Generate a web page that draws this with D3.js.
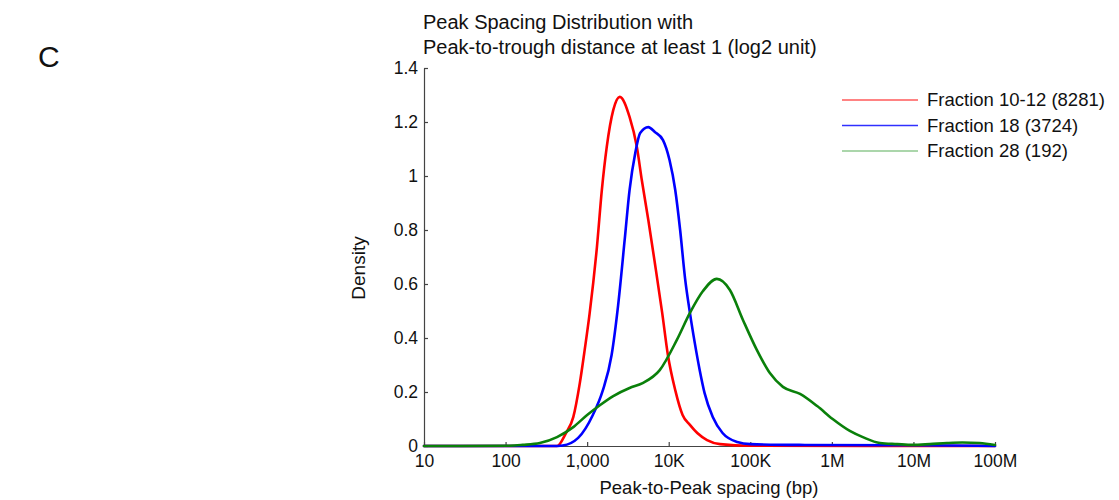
<!DOCTYPE html>
<html>
<head>
<meta charset="utf-8">
<script src="https://cdn.jsdelivr.net/npm/d3@7"></script>
<style>
  html, body { margin: 0; padding: 0; background: #fff; }
  svg { display: block; font-family: "Liberation Sans", Arial, Helvetica, sans-serif; }
</style>
</head>
<body>
<svg id="chart" width="1119" height="500"></svg>
<script>
// ---- data ----
const titleLines = ["Peak Spacing Distribution with", "Peak-to-trough distance at least 1 (log2 unit)"];
const xTickValues = [10, 100, 1000, 1e4, 1e5, 1e6, 1e7, 1e8];
const xTickLabels = ["10", "100", "1,000", "10K", "100K", "1M", "10M", "100M"];
const yTickValues = [0, 0.2, 0.4, 0.6, 0.8, 1, 1.2, 1.4];
const yTickLabels = ["0", "0.2", "0.4", "0.6", "0.8", "1", "1.2", "1.4"];
const seriesNames = ["Fraction 10-12 (8281)", "Fraction 18 (3724)", "Fraction 28 (192)"];

const redX = [10, 300, 427, 550, 676, 813, 933, 1072, 1318, 1514, 1738, 2089, 2512, 3311, 4074, 4677, 5623, 6761, 8318, 9772, 12023, 14791, 18197, 22387, 29512, 42658, 100000, 1e8];
const redY = [0, 0, 0, 0.048, 0.107, 0.233, 0.356, 0.49, 0.737, 0.948, 1.107, 1.244, 1.293, 1.219, 1.107, 0.985, 0.837, 0.678, 0.493, 0.337, 0.207, 0.115, 0.078, 0.048, 0.022, 0.007, 0.001, 0];

const blueX = [10, 380, 501, 776, 1175, 1549, 1995, 2399, 2884, 3311, 3890, 4467, 5623, 6761, 8511, 10233, 12023, 13804, 15849, 18197, 20893, 23988, 27542, 34674, 45709, 69183, 100000, 398107, 1e7, 1e8];
const blueY = [0, 0, 0.002, 0.03, 0.115, 0.204, 0.337, 0.522, 0.763, 0.948, 1.085, 1.159, 1.181, 1.163, 1.133, 1.059, 0.948, 0.8, 0.622, 0.493, 0.381, 0.281, 0.196, 0.107, 0.048, 0.015, 0.007, 0.004, 0.003, 0];

const greenX = [10, 112, 162, 263, 427, 676, 1000, 1445, 2089, 3311, 4786, 7762, 12589, 18197, 26303, 38905, 56234, 81283, 120226, 173780, 251189, 407380, 660693, 1023293, 1659587, 2398833, 3890451, 6309573, 9772372, 15848932, 25703958, 39810717, 64565423, 1e8];
const greenY = [0, 0.001, 0.004, 0.011, 0.033, 0.07, 0.115, 0.152, 0.185, 0.215, 0.233, 0.281, 0.393, 0.493, 0.574, 0.619, 0.578, 0.467, 0.356, 0.27, 0.219, 0.193, 0.148, 0.1, 0.056, 0.033, 0.011, 0.007, 0.004, 0.007, 0.011, 0.013, 0.011, 0.004];

const seriesColors = ["#ff0000", "#0000ff", "#0a800a"];
const legendColors = ["#ff5a5a", "#3030ff", "#8fc98f"];

// ---- drawing ----
const svg = d3.select("#chart");
const x = d3.scaleLog().domain([10, 1e8]).range([424, 995]);
const y = d3.scaleLinear().domain([0, 1.4]).range([446, 68]);

// panel letter
svg.append("text").attr("x", 38).attr("y", 67).attr("font-size", 30).attr("fill", "#111").text("C");

// title
svg.append("g").selectAll("text").data(titleLines).join("text")
  .attr("x", 423).attr("y", (d, i) => 29 + i * 25)
  .attr("font-size", 20).attr("fill", "#111").text(d => d);

// axes
const xAxis = d3.axisBottom(x).tickValues(xTickValues)
  .tickFormat((d, i) => xTickLabels[i]).tickSizeInner(-4).tickSizeOuter(0).tickPadding(9);
const yAxis = d3.axisLeft(y).tickValues(yTickValues)
  .tickFormat((d, i) => yTickLabels[i]).tickSizeInner(-4).tickSizeOuter(0).tickPadding(6);

const gx = svg.append("g").attr("transform", `translate(0,${y(0)})`).call(xAxis);
const gy = svg.append("g").attr("transform", `translate(${x(10)},0)`).call(yAxis);
[gx, gy].forEach(g => {
  g.select(".domain").attr("stroke", "#444").attr("stroke-width", 1.2);
  g.selectAll(".tick line").attr("stroke", "#444").attr("stroke-width", 1.2);
  g.selectAll(".tick text").attr("font-size", 17.5).attr("fill", "#111")
    .attr("font-family", "\"Liberation Sans\", Arial, Helvetica, sans-serif");
});
gy.selectAll(".tick text").attr("dy", "0.3em");

// axis labels
svg.append("text").attr("x", 709).attr("y", 494).attr("text-anchor", "middle")
  .attr("font-size", 18.5).attr("fill", "#111").text("Peak-to-Peak spacing (bp)");
svg.append("text").attr("transform", "translate(365,268) rotate(-90)").attr("text-anchor", "middle")
  .attr("font-size", 19).attr("fill", "#111").text("Density");

// curves
const line = d3.line().x(d => x(d[0])).y(d => y(d[1])).curve(d3.curveMonotoneX);
const series = [d3.zip(redX, redY), d3.zip(blueX, blueY), d3.zip(greenX, greenY)];
svg.append("g").selectAll("path").data(series).join("path")
  .attr("d", line).attr("fill", "none")
  .attr("stroke", (d, i) => seriesColors[i]).attr("stroke-width", 2.6)
  .attr("stroke-linejoin", "round").attr("stroke-linecap", "round");

// legend
const lg = svg.append("g").selectAll("g").data(seriesNames).join("g")
  .attr("transform", (d, i) => `translate(0,${100 + i * 25.5})`);
lg.append("line").attr("x1", 842).attr("x2", 918).attr("y1", 0).attr("y2", 0)
  .attr("stroke", (d, i) => legendColors[i]).attr("stroke-width", 1.3);
lg.append("text").attr("x", 927).attr("y", 0).attr("dy", "0.35em")
  .attr("font-size", 18.5).attr("fill", "#111").text(d => d);
</script>
</body>
</html>
